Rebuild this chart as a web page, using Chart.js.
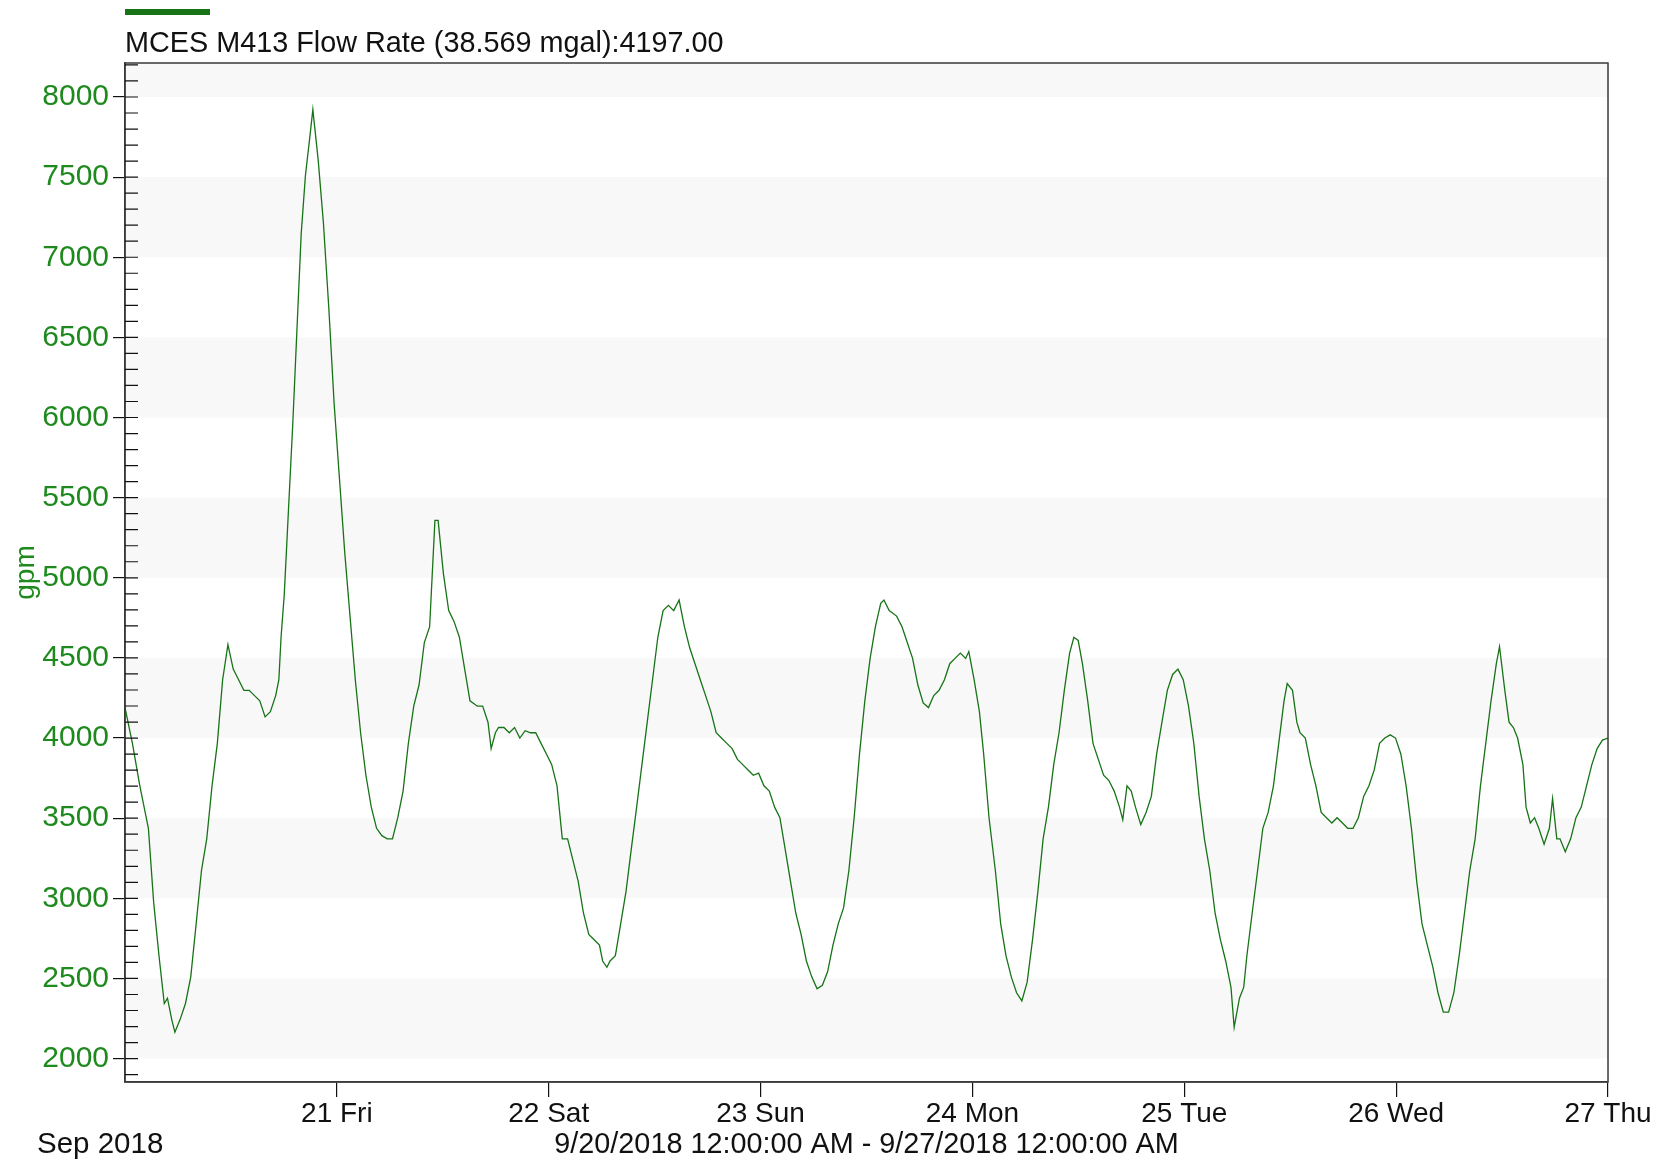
<!DOCTYPE html>
<html>
<head>
<meta charset="utf-8">
<title>MCES M413 Flow Rate</title>
<script src="https://cdn.jsdelivr.net/npm/chart.js"></script>
<style>
    html, body { margin: 0; padding: 0; background: #ffffff; }
    #chart { display: block; }
</style>
</head>
<body>
<canvas id="chart" width="1664" height="1163"></canvas>
<script>
// ===== DATA =====
const seriesLabel = "MCES M413 Flow Rate (38.569 mgal):4197.00";
const monthLabel = "Sep 2018";
const rangeLabel = "9/20/2018 12:00:00 AM - 9/27/2018 12:00:00 AM";
const yTitle = "gpm";

// x is hours after 9/20/2018 00:00
const dayTicks = [24, 48, 72, 96, 120, 144, 168];
const dayLabels = ["21 Fri", "22 Sat", "23 Sun", "24 Mon", "25 Tue", "26 Wed", "27 Thu"];
const yTicks = [2000, 2500, 3000, 3500, 4000, 4500, 5000, 5500, 6000, 6500, 7000, 7500, 8000];

const hours = [
    0.00, 0.84, 1.68, 2.65, 3.25, 3.85, 4.45, 4.81, 5.29, 5.65, 6.25, 6.85, 7.45, 8.06, 8.66, 9.26, 9.86, 10.46, 11.06, 11.66,
    12.26, 12.87, 13.47, 14.07, 14.67, 15.27, 15.87, 16.47, 17.07, 17.43, 17.68, 18.04, 18.52, 19.00, 19.48, 19.96, 20.44, 20.92, 21.28, 21.88,
    22.48, 23.09, 23.69, 24.29, 24.89, 25.49, 26.09, 26.69, 27.29, 27.90, 28.50, 29.10, 29.70, 30.30, 30.90, 31.50, 32.10, 32.71, 33.31, 33.91,
    34.51, 35.11, 35.47, 36.07, 36.67, 37.27, 37.88, 38.48, 39.08, 39.92, 40.52, 41.12, 41.48, 41.96, 42.32, 42.93, 43.53, 44.13, 44.73, 45.33,
    45.93, 46.53, 47.13, 47.74, 48.34, 48.94, 49.54, 50.14, 50.74, 51.34, 51.94, 52.54, 53.15, 53.75, 54.11, 54.59, 54.95, 55.55, 56.15, 56.75,
    57.35, 57.96, 58.56, 59.16, 59.76, 60.36, 60.96, 61.56, 62.16, 62.77, 63.37, 63.97, 64.57, 65.17, 65.77, 66.37, 66.97, 67.57, 68.18, 68.78,
    69.38, 69.98, 70.58, 71.18, 71.78, 72.38, 72.99, 73.59, 74.19, 74.79, 75.39, 75.99, 76.59, 77.19, 77.80, 78.40, 79.00, 79.60, 80.20, 80.80,
    81.40, 82.00, 82.60, 83.21, 83.81, 84.41, 85.01, 85.61, 85.97, 86.57, 87.41, 88.02, 88.62, 89.22, 89.82, 90.42, 91.02, 91.62, 92.22, 92.83,
    93.43, 94.03, 94.63, 95.23, 95.59, 96.19, 96.79, 97.27, 97.88, 98.60, 99.20, 99.80, 100.40, 101.00, 101.60, 102.20, 102.81, 103.41, 104.01, 104.61,
    105.21, 105.81, 106.41, 107.01, 107.49, 107.98, 108.46, 109.06, 109.66, 110.26, 110.86, 111.46, 112.06, 112.66, 113.03, 113.51, 113.99, 114.47, 115.07, 115.67,
    116.27, 116.87, 117.47, 118.08, 118.68, 119.28, 119.88, 120.48, 121.08, 121.68, 122.28, 122.89, 123.49, 124.09, 124.69, 125.29, 125.65, 126.25, 126.73, 127.09,
    127.69, 128.30, 128.90, 129.50, 130.10, 130.70, 131.30, 131.66, 132.26, 132.75, 133.11, 133.71, 134.31, 134.91, 135.51, 136.11, 136.71, 137.31, 137.92, 138.52,
    139.12, 139.72, 140.32, 140.92, 141.52, 142.12, 142.72, 143.33, 143.93, 144.53, 145.13, 145.73, 146.33, 146.93, 147.53, 148.14, 148.74, 149.34, 149.94, 150.54,
    151.14, 151.74, 152.34, 152.95, 153.55, 154.15, 154.75, 155.35, 155.71, 156.31, 156.79, 157.28, 157.76, 158.36, 158.72, 159.20, 159.68, 160.16, 160.76, 161.36,
    161.72, 162.20, 162.56, 163.16, 163.77, 164.37, 164.97, 165.57, 166.17, 166.77, 167.37, 168.00
];

const flow = [
    4190, 3967, 3702, 3437, 2973, 2642, 2344, 2377, 2245, 2165, 2245, 2344, 2510, 2841, 3172, 3371, 3702, 3967, 4364, 4583,
    4430, 4364, 4298, 4298, 4265, 4232, 4132, 4165, 4265, 4364, 4629, 4894, 5424, 5953, 6549, 7146, 7510, 7742, 7921, 7609,
    7212, 6682, 6087, 5622, 5159, 4761, 4364, 4033, 3768, 3569, 3437, 3391, 3371, 3371, 3503, 3669, 3967, 4199, 4331, 4596,
    4695, 5358, 5358, 5026, 4795, 4728, 4629, 4430, 4232, 4199, 4199, 4099, 3934, 4033, 4066, 4066, 4033, 4066, 4000, 4046,
    4033, 4033, 3967, 3901, 3834, 3702, 3371, 3371, 3238, 3106, 2907, 2775, 2742, 2708, 2609, 2570, 2609, 2642, 2841, 3040,
    3305, 3569, 3834, 4099, 4364, 4629, 4795, 4828, 4795, 4861, 4695, 4563, 4464, 4364, 4265, 4165, 4033, 4000, 3967, 3934,
    3867, 3834, 3801, 3768, 3781, 3702, 3669, 3569, 3503, 3305, 3106, 2907, 2775, 2609, 2510, 2435, 2457, 2543, 2708, 2841,
    2940, 3172, 3503, 3901, 4232, 4497, 4695, 4841, 4861, 4795, 4761, 4695, 4596, 4497, 4331, 4219, 4190, 4265, 4298, 4364,
    4464, 4497, 4530, 4497, 4540, 4364, 4165, 3901, 3503, 3172, 2841, 2642, 2510, 2411, 2360, 2477, 2742, 3040, 3371, 3569,
    3834, 4033, 4298, 4530, 4629, 4609, 4464, 4232, 3967, 3867, 3768, 3735, 3669, 3569, 3490, 3702, 3669, 3569, 3460, 3536,
    3636, 3901, 4099, 4298, 4397, 4430, 4364, 4199, 3967, 3636, 3371, 3172, 2907, 2742, 2609, 2444, 2195, 2377, 2444, 2642,
    2907, 3172, 3437, 3536, 3702, 3967, 4232, 4340, 4298, 4099, 4033, 4000, 3834, 3702, 3536, 3503, 3470, 3503, 3470, 3437,
    3437, 3503, 3636, 3702, 3801, 3967, 4000, 4020, 4000, 3901, 3702, 3437, 3106, 2841, 2708, 2576, 2411, 2290, 2290, 2411,
    2642, 2907, 3172, 3371, 3702, 3967, 4232, 4464, 4570, 4298, 4099, 4066, 4000, 3834, 3569, 3470, 3503, 3437, 3338, 3437,
    3622, 3371, 3371, 3290, 3371, 3503, 3569, 3702, 3834, 3934, 3987, 4000
];

// ===== STYLE =====
const FONT = "'Liberation Sans', Arial, sans-serif";
const TEXT_GREEN = "#1e8a1e";
const LINE_GREEN = "#167316";
const AXIS_COLOR = "#3a3a3a";

/* light stripes behind the plot, every other 500 step */
const bandsPlugin = {
    id: "bands",
    beforeDraw(chart) {
        const { ctx, chartArea: a, scales: { y } } = chart;
        ctx.save();
        ctx.fillStyle = "#f8f8f8";
        for (let i = 0; i < yTicks.length; i += 2) {
            const lo = yTicks[i];
            const hi = i + 1 < yTicks.length ? yTicks[i + 1] : y.max;
            const top = y.getPixelForValue(hi);
            const bot = y.getPixelForValue(lo);
            ctx.fillRect(a.left, top, a.right - a.left, bot - top);
        }
        ctx.restore();
    }
};

/* box round the plot, inner ticks, legend swatch and loose texts */
const framePlugin = {
    id: "frame",
    afterDraw(chart) {
        const { ctx, chartArea: a, scales: { y } } = chart;
        ctx.save();
        ctx.strokeStyle = AXIS_COLOR;
        ctx.lineWidth = 1.5;
        ctx.strokeRect(a.left, a.top, a.right - a.left, a.bottom - a.top);

        ctx.strokeStyle = "#111111";
        ctx.lineWidth = 1.2;
        ctx.beginPath();
        for (let v = Math.ceil(y.min / 100) * 100; v <= y.max; v += 100) {
            const py = y.getPixelForValue(v);
            ctx.moveTo(a.left, py);
            ctx.lineTo(a.left + 13, py);
        }
        ctx.stroke();

        ctx.fillStyle = LINE_GREEN;
        ctx.fillRect(a.left, 9, 85, 6);

        ctx.fillStyle = "#111111";
        ctx.font = "28.8px " + FONT;
        ctx.textBaseline = "middle";
        ctx.textAlign = "left";
        ctx.fillText(seriesLabel, a.left, 44);
        ctx.font = "29.5px " + FONT;
        ctx.fillText(monthLabel, 37, 1145);
        ctx.restore();
    }
};

new Chart(document.getElementById("chart"), {
    type: "line",
    data: {
        datasets: [{
            label: seriesLabel,
            data: hours.map((h, i) => ({ x: h, y: flow[i] })),
            borderColor: LINE_GREEN,
            borderWidth: 1.3,
            pointRadius: 0,
            tension: 0,
            fill: false
        }]
    },
    options: {
        responsive: false,
        animation: false,
        devicePixelRatio: 1,
        layout: { padding: { top: 63, right: 56, left: 0, bottom: 0 } },
        plugins: {
            legend: { display: false },
            tooltip: { enabled: false },
            title: { display: false }
        },
        scales: {
            x: {
                type: "linear",
                position: "bottom",
                min: 0,
                max: 168,
                afterBuildTicks: s => { s.ticks = dayTicks.map(v => ({ value: v })); },
                afterFit: s => { s.height = 81; },
                ticks: {
                    color: "#111111",
                    font: { family: FONT, size: 28 },
                    padding: 0,
                    maxRotation: 0,
                    autoSkip: false,
                    callback: v => dayLabels[dayTicks.indexOf(v)]
                },
                grid: { drawOnChartArea: false, drawTicks: true, tickLength: 15, color: "#111111", lineWidth: 1.2 },
                border: { display: true, color: AXIS_COLOR, width: 1.5 },
                title: {
                    display: true,
                    text: rangeLabel,
                    color: "#111111",
                    font: { family: FONT, size: 28.8 },
                    padding: { top: 0, bottom: 1 }
                }
            },
            y: {
                min: 1854,
                max: 8212,
                afterBuildTicks: s => { s.ticks = yTicks.map(v => ({ value: v })); },
                afterFit: s => { s.width = 125; },
                ticks: {
                    color: TEXT_GREEN,
                    font: { family: FONT, size: 30 },
                    padding: 4,
                    callback: v => String(v)
                },
                grid: { drawOnChartArea: false, drawTicks: true, tickLength: 12, color: "#111111", lineWidth: 1.2 },
                border: { display: true, color: AXIS_COLOR, width: 1.5 },
                title: {
                    display: true,
                    text: yTitle,
                    color: TEXT_GREEN,
                    font: { family: FONT, size: 28 },
                    padding: { top: 9, bottom: 0 }
                }
            }
        }
    },
    plugins: [bandsPlugin, framePlugin]
});
</script>
</body>
</html>
